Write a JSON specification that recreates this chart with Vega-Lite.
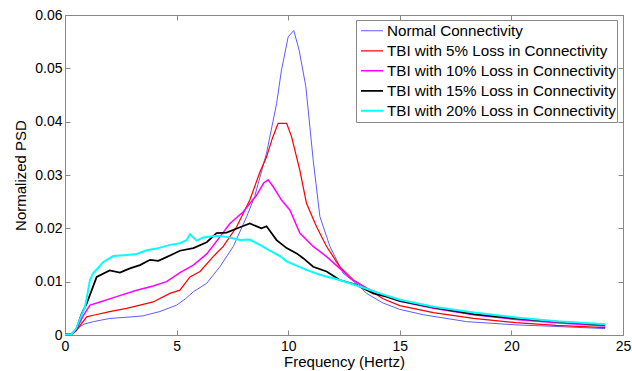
{
  "$schema": "https://vega.github.io/schema/vega-lite/v6.json",
  "width": 558,
  "height": 320,
  "autosize": {"type": "none"},
  "padding": {"left": 65, "top": 15, "right": 9, "bottom": 36},
  "background": "white",
  "config": {
    "view": {"stroke": "#888", "strokeWidth": 1},
    "font": "Liberation Sans"
  },
  "datasets": {
    "psd": [
      {"s": "Normal Connectivity", "f": 0, "v": 0.0001},
      {"s": "Normal Connectivity", "f": 0.3, "v": 0.0002},
      {"s": "Normal Connectivity", "f": 0.5, "v": 0.0008},
      {"s": "Normal Connectivity", "f": 0.67, "v": 0.0016},
      {"s": "Normal Connectivity", "f": 0.9, "v": 0.0021},
      {"s": "Normal Connectivity", "f": 1.27, "v": 0.0025},
      {"s": "Normal Connectivity", "f": 2.0, "v": 0.0031},
      {"s": "Normal Connectivity", "f": 3.0, "v": 0.0034},
      {"s": "Normal Connectivity", "f": 3.5, "v": 0.0036},
      {"s": "Normal Connectivity", "f": 4.25, "v": 0.0044},
      {"s": "Normal Connectivity", "f": 5.0, "v": 0.0056},
      {"s": "Normal Connectivity", "f": 5.4, "v": 0.0068},
      {"s": "Normal Connectivity", "f": 5.75, "v": 0.0081},
      {"s": "Normal Connectivity", "f": 6.35, "v": 0.0097},
      {"s": "Normal Connectivity", "f": 6.94, "v": 0.0128},
      {"s": "Normal Connectivity", "f": 7.54, "v": 0.0166},
      {"s": "Normal Connectivity", "f": 8.14, "v": 0.0222},
      {"s": "Normal Connectivity", "f": 8.5, "v": 0.026},
      {"s": "Normal Connectivity", "f": 9.03, "v": 0.0341},
      {"s": "Normal Connectivity", "f": 9.48, "v": 0.0434},
      {"s": "Normal Connectivity", "f": 9.7, "v": 0.0497},
      {"s": "Normal Connectivity", "f": 10.0, "v": 0.0559},
      {"s": "Normal Connectivity", "f": 10.25, "v": 0.0571},
      {"s": "Normal Connectivity", "f": 10.49, "v": 0.0534},
      {"s": "Normal Connectivity", "f": 10.79, "v": 0.0466},
      {"s": "Normal Connectivity", "f": 11.12, "v": 0.0328},
      {"s": "Normal Connectivity", "f": 11.42, "v": 0.0222},
      {"s": "Normal Connectivity", "f": 11.87, "v": 0.0166},
      {"s": "Normal Connectivity", "f": 12.46, "v": 0.0116},
      {"s": "Normal Connectivity", "f": 13.21, "v": 0.0091},
      {"s": "Normal Connectivity", "f": 13.51, "v": 0.0078},
      {"s": "Normal Connectivity", "f": 14.25, "v": 0.006},
      {"s": "Normal Connectivity", "f": 15.0, "v": 0.0048},
      {"s": "Normal Connectivity", "f": 16.05, "v": 0.0038},
      {"s": "Normal Connectivity", "f": 18.0, "v": 0.0025},
      {"s": "Normal Connectivity", "f": 20.2, "v": 0.0019},
      {"s": "Normal Connectivity", "f": 22.0, "v": 0.0016},
      {"s": "Normal Connectivity", "f": 24.2, "v": 0.0012},

      {"s": "TBI with 5% Loss in Connectivity", "f": 0, "v": 0.0001},
      {"s": "TBI with 5% Loss in Connectivity", "f": 0.3, "v": 0.0002},
      {"s": "TBI with 5% Loss in Connectivity", "f": 0.5, "v": 0.0008},
      {"s": "TBI with 5% Loss in Connectivity", "f": 0.75, "v": 0.0022},
      {"s": "TBI with 5% Loss in Connectivity", "f": 0.97, "v": 0.0034},
      {"s": "TBI with 5% Loss in Connectivity", "f": 1.27, "v": 0.0037},
      {"s": "TBI with 5% Loss in Connectivity", "f": 2.0, "v": 0.0044},
      {"s": "TBI with 5% Loss in Connectivity", "f": 2.76, "v": 0.005},
      {"s": "TBI with 5% Loss in Connectivity", "f": 3.36, "v": 0.0056},
      {"s": "TBI with 5% Loss in Connectivity", "f": 3.95, "v": 0.0062},
      {"s": "TBI with 5% Loss in Connectivity", "f": 4.7, "v": 0.0078},
      {"s": "TBI with 5% Loss in Connectivity", "f": 5.15, "v": 0.0084},
      {"s": "TBI with 5% Loss in Connectivity", "f": 5.6, "v": 0.0109},
      {"s": "TBI with 5% Loss in Connectivity", "f": 6.05, "v": 0.0119},
      {"s": "TBI with 5% Loss in Connectivity", "f": 6.64, "v": 0.0147},
      {"s": "TBI with 5% Loss in Connectivity", "f": 7.09, "v": 0.0166},
      {"s": "TBI with 5% Loss in Connectivity", "f": 7.69, "v": 0.0203},
      {"s": "TBI with 5% Loss in Connectivity", "f": 8.28, "v": 0.0253},
      {"s": "TBI with 5% Loss in Connectivity", "f": 8.73, "v": 0.0305},
      {"s": "TBI with 5% Loss in Connectivity", "f": 9.03, "v": 0.0334},
      {"s": "TBI with 5% Loss in Connectivity", "f": 9.3, "v": 0.037},
      {"s": "TBI with 5% Loss in Connectivity", "f": 9.55, "v": 0.0397},
      {"s": "TBI with 5% Loss in Connectivity", "f": 9.93, "v": 0.0397},
      {"s": "TBI with 5% Loss in Connectivity", "f": 10.15, "v": 0.0372},
      {"s": "TBI with 5% Loss in Connectivity", "f": 10.52, "v": 0.0309},
      {"s": "TBI with 5% Loss in Connectivity", "f": 10.82, "v": 0.0247},
      {"s": "TBI with 5% Loss in Connectivity", "f": 11.27, "v": 0.0203},
      {"s": "TBI with 5% Loss in Connectivity", "f": 11.72, "v": 0.0166},
      {"s": "TBI with 5% Loss in Connectivity", "f": 12.31, "v": 0.0128},
      {"s": "TBI with 5% Loss in Connectivity", "f": 12.91, "v": 0.0103},
      {"s": "TBI with 5% Loss in Connectivity", "f": 13.51, "v": 0.0088},
      {"s": "TBI with 5% Loss in Connectivity", "f": 14.25, "v": 0.0068},
      {"s": "TBI with 5% Loss in Connectivity", "f": 15.0, "v": 0.0055},
      {"s": "TBI with 5% Loss in Connectivity", "f": 16.5, "v": 0.0042},
      {"s": "TBI with 5% Loss in Connectivity", "f": 18.3, "v": 0.0031},
      {"s": "TBI with 5% Loss in Connectivity", "f": 20.2, "v": 0.0023},
      {"s": "TBI with 5% Loss in Connectivity", "f": 22.0, "v": 0.0018},
      {"s": "TBI with 5% Loss in Connectivity", "f": 24.2, "v": 0.0014},

      {"s": "TBI with 10% Loss in Connectivity", "f": 0, "v": 0.0001},
      {"s": "TBI with 10% Loss in Connectivity", "f": 0.3, "v": 0.0002},
      {"s": "TBI with 10% Loss in Connectivity", "f": 0.5, "v": 0.0009},
      {"s": "TBI with 10% Loss in Connectivity", "f": 0.8, "v": 0.0035},
      {"s": "TBI with 10% Loss in Connectivity", "f": 1.12, "v": 0.0056},
      {"s": "TBI with 10% Loss in Connectivity", "f": 1.57, "v": 0.0062},
      {"s": "TBI with 10% Loss in Connectivity", "f": 2.31, "v": 0.0072},
      {"s": "TBI with 10% Loss in Connectivity", "f": 3.21, "v": 0.0084},
      {"s": "TBI with 10% Loss in Connectivity", "f": 3.95, "v": 0.0092},
      {"s": "TBI with 10% Loss in Connectivity", "f": 4.55, "v": 0.01},
      {"s": "TBI with 10% Loss in Connectivity", "f": 5.15, "v": 0.0117},
      {"s": "TBI with 10% Loss in Connectivity", "f": 5.75, "v": 0.0131},
      {"s": "TBI with 10% Loss in Connectivity", "f": 6.35, "v": 0.0152},
      {"s": "TBI with 10% Loss in Connectivity", "f": 6.94, "v": 0.0184},
      {"s": "TBI with 10% Loss in Connectivity", "f": 7.39, "v": 0.0209},
      {"s": "TBI with 10% Loss in Connectivity", "f": 7.99, "v": 0.0231},
      {"s": "TBI with 10% Loss in Connectivity", "f": 8.58, "v": 0.0262},
      {"s": "TBI with 10% Loss in Connectivity", "f": 8.9, "v": 0.0285},
      {"s": "TBI with 10% Loss in Connectivity", "f": 9.1, "v": 0.0291},
      {"s": "TBI with 10% Loss in Connectivity", "f": 9.33, "v": 0.0278},
      {"s": "TBI with 10% Loss in Connectivity", "f": 9.7, "v": 0.0253},
      {"s": "TBI with 10% Loss in Connectivity", "f": 10.08, "v": 0.0234},
      {"s": "TBI with 10% Loss in Connectivity", "f": 10.52, "v": 0.0191},
      {"s": "TBI with 10% Loss in Connectivity", "f": 11.12, "v": 0.0166},
      {"s": "TBI with 10% Loss in Connectivity", "f": 11.72, "v": 0.0147},
      {"s": "TBI with 10% Loss in Connectivity", "f": 12.31, "v": 0.0125},
      {"s": "TBI with 10% Loss in Connectivity", "f": 12.91, "v": 0.0103},
      {"s": "TBI with 10% Loss in Connectivity", "f": 13.51, "v": 0.0088},
      {"s": "TBI with 10% Loss in Connectivity", "f": 14.25, "v": 0.0075},
      {"s": "TBI with 10% Loss in Connectivity", "f": 15.0, "v": 0.0063},
      {"s": "TBI with 10% Loss in Connectivity", "f": 16.5, "v": 0.005},
      {"s": "TBI with 10% Loss in Connectivity", "f": 18.3, "v": 0.0038},
      {"s": "TBI with 10% Loss in Connectivity", "f": 20.2, "v": 0.0029},
      {"s": "TBI with 10% Loss in Connectivity", "f": 22.0, "v": 0.0023},
      {"s": "TBI with 10% Loss in Connectivity", "f": 24.2, "v": 0.0017},

      {"s": "TBI with 15% Loss in Connectivity", "f": 0, "v": 0.0001},
      {"s": "TBI with 15% Loss in Connectivity", "f": 0.3, "v": 0.0002},
      {"s": "TBI with 15% Loss in Connectivity", "f": 0.5, "v": 0.001},
      {"s": "TBI with 15% Loss in Connectivity", "f": 0.75, "v": 0.004},
      {"s": "TBI with 15% Loss in Connectivity", "f": 0.97, "v": 0.0059},
      {"s": "TBI with 15% Loss in Connectivity", "f": 1.42, "v": 0.0109},
      {"s": "TBI with 15% Loss in Connectivity", "f": 2.0, "v": 0.0121},
      {"s": "TBI with 15% Loss in Connectivity", "f": 2.46, "v": 0.0117},
      {"s": "TBI with 15% Loss in Connectivity", "f": 2.91, "v": 0.0125},
      {"s": "TBI with 15% Loss in Connectivity", "f": 3.36, "v": 0.0131},
      {"s": "TBI with 15% Loss in Connectivity", "f": 3.81, "v": 0.0141},
      {"s": "TBI with 15% Loss in Connectivity", "f": 4.18, "v": 0.0139},
      {"s": "TBI with 15% Loss in Connectivity", "f": 4.55, "v": 0.0146},
      {"s": "TBI with 15% Loss in Connectivity", "f": 5.15, "v": 0.0158},
      {"s": "TBI with 15% Loss in Connectivity", "f": 5.75, "v": 0.0163},
      {"s": "TBI with 15% Loss in Connectivity", "f": 6.35, "v": 0.0174},
      {"s": "TBI with 15% Loss in Connectivity", "f": 6.79, "v": 0.0191},
      {"s": "TBI with 15% Loss in Connectivity", "f": 7.24, "v": 0.0192},
      {"s": "TBI with 15% Loss in Connectivity", "f": 7.84, "v": 0.0202},
      {"s": "TBI with 15% Loss in Connectivity", "f": 8.28, "v": 0.0209},
      {"s": "TBI with 15% Loss in Connectivity", "f": 8.8, "v": 0.02},
      {"s": "TBI with 15% Loss in Connectivity", "f": 9.03, "v": 0.0204},
      {"s": "TBI with 15% Loss in Connectivity", "f": 9.48, "v": 0.0178},
      {"s": "TBI with 15% Loss in Connectivity", "f": 9.93, "v": 0.0163},
      {"s": "TBI with 15% Loss in Connectivity", "f": 10.38, "v": 0.0153},
      {"s": "TBI with 15% Loss in Connectivity", "f": 10.67, "v": 0.0144},
      {"s": "TBI with 15% Loss in Connectivity", "f": 11.12, "v": 0.0128},
      {"s": "TBI with 15% Loss in Connectivity", "f": 11.72, "v": 0.0119},
      {"s": "TBI with 15% Loss in Connectivity", "f": 12.31, "v": 0.0103},
      {"s": "TBI with 15% Loss in Connectivity", "f": 13.06, "v": 0.0094},
      {"s": "TBI with 15% Loss in Connectivity", "f": 13.81, "v": 0.0078},
      {"s": "TBI with 15% Loss in Connectivity", "f": 14.4, "v": 0.0072},
      {"s": "TBI with 15% Loss in Connectivity", "f": 15.0, "v": 0.0064},
      {"s": "TBI with 15% Loss in Connectivity", "f": 16.5, "v": 0.0052},
      {"s": "TBI with 15% Loss in Connectivity", "f": 18.3, "v": 0.0039},
      {"s": "TBI with 15% Loss in Connectivity", "f": 20.2, "v": 0.0031},
      {"s": "TBI with 15% Loss in Connectivity", "f": 22.0, "v": 0.0025},
      {"s": "TBI with 15% Loss in Connectivity", "f": 24.2, "v": 0.0019},

      {"s": "TBI with 20% Loss in Connectivity", "f": 0, "v": 0.0001},
      {"s": "TBI with 20% Loss in Connectivity", "f": 0.3, "v": 0.0002},
      {"s": "TBI with 20% Loss in Connectivity", "f": 0.5, "v": 0.0012},
      {"s": "TBI with 20% Loss in Connectivity", "f": 0.67, "v": 0.003},
      {"s": "TBI with 20% Loss in Connectivity", "f": 0.9, "v": 0.0053},
      {"s": "TBI with 20% Loss in Connectivity", "f": 1.12, "v": 0.0103},
      {"s": "TBI with 20% Loss in Connectivity", "f": 1.27, "v": 0.0116},
      {"s": "TBI with 20% Loss in Connectivity", "f": 1.72, "v": 0.0137},
      {"s": "TBI with 20% Loss in Connectivity", "f": 2.16, "v": 0.0148},
      {"s": "TBI with 20% Loss in Connectivity", "f": 2.76, "v": 0.015},
      {"s": "TBI with 20% Loss in Connectivity", "f": 3.21, "v": 0.0152},
      {"s": "TBI with 20% Loss in Connectivity", "f": 3.66, "v": 0.0159},
      {"s": "TBI with 20% Loss in Connectivity", "f": 4.1, "v": 0.0162},
      {"s": "TBI with 20% Loss in Connectivity", "f": 4.7, "v": 0.0169},
      {"s": "TBI with 20% Loss in Connectivity", "f": 5.15, "v": 0.0172},
      {"s": "TBI with 20% Loss in Connectivity", "f": 5.45, "v": 0.0178},
      {"s": "TBI with 20% Loss in Connectivity", "f": 5.6, "v": 0.0189},
      {"s": "TBI with 20% Loss in Connectivity", "f": 5.9, "v": 0.0177},
      {"s": "TBI with 20% Loss in Connectivity", "f": 6.19, "v": 0.0183},
      {"s": "TBI with 20% Loss in Connectivity", "f": 6.79, "v": 0.0186},
      {"s": "TBI with 20% Loss in Connectivity", "f": 7.24, "v": 0.0184},
      {"s": "TBI with 20% Loss in Connectivity", "f": 7.54, "v": 0.0181},
      {"s": "TBI with 20% Loss in Connectivity", "f": 7.84, "v": 0.0178},
      {"s": "TBI with 20% Loss in Connectivity", "f": 8.28, "v": 0.0179},
      {"s": "TBI with 20% Loss in Connectivity", "f": 8.73, "v": 0.0169},
      {"s": "TBI with 20% Loss in Connectivity", "f": 9.18, "v": 0.0158},
      {"s": "TBI with 20% Loss in Connectivity", "f": 9.63, "v": 0.0148},
      {"s": "TBI with 20% Loss in Connectivity", "f": 9.93, "v": 0.0138},
      {"s": "TBI with 20% Loss in Connectivity", "f": 10.82, "v": 0.0122},
      {"s": "TBI with 20% Loss in Connectivity", "f": 11.42, "v": 0.0113},
      {"s": "TBI with 20% Loss in Connectivity", "f": 12.31, "v": 0.0103},
      {"s": "TBI with 20% Loss in Connectivity", "f": 13.21, "v": 0.0091},
      {"s": "TBI with 20% Loss in Connectivity", "f": 14.1, "v": 0.0078},
      {"s": "TBI with 20% Loss in Connectivity", "f": 15.0, "v": 0.0066},
      {"s": "TBI with 20% Loss in Connectivity", "f": 16.5, "v": 0.0053},
      {"s": "TBI with 20% Loss in Connectivity", "f": 18.3, "v": 0.0042},
      {"s": "TBI with 20% Loss in Connectivity", "f": 20.2, "v": 0.0033},
      {"s": "TBI with 20% Loss in Connectivity", "f": 22.0, "v": 0.0026},
      {"s": "TBI with 20% Loss in Connectivity", "f": 24.2, "v": 0.002}
    ]
  },
  "data": {"name": "psd"},
  "layer": [
    {
      "mark": {"type": "line", "clip": true},
      "encoding": {
        "x": {
          "field": "f", "type": "quantitative",
          "scale": {"domain": [0, 25], "nice": false, "zero": false},
          "axis": {
            "values": [0, 5, 10, 15, 20, 25],
            "title": "Frequency (Hertz)",
            "tickSize": -5, "tickColor": "#888",
            "labelPadding": 9, "domain": false, "grid": false,
            "labelFont": "Liberation Sans", "labelFontSize": 14, "labelColor": "#000",
            "labelFlush": false, "labelOverlap": false,
            "titleFont": "Liberation Sans", "titleFontSize": 15, "titleFontWeight": "normal",
            "titleColor": "#000", "titlePadding": 1
          }
        },
        "y": {
          "field": "v", "type": "quantitative",
          "scale": {"domain": [0, 0.06], "nice": false},
          "axis": {
            "values": [0, 0.01, 0.02, 0.03, 0.04, 0.05, 0.06],
            "format": "~g",
            "title": "Normalized PSD",
            "tickSize": -5, "tickColor": "#888",
            "labelPadding": 8, "domain": false, "grid": false,
            "labelFont": "Liberation Sans", "labelFontSize": 14, "labelColor": "#000",
            "labelFlush": false, "labelOverlap": false,
            "titleFont": "Liberation Sans", "titleFontSize": 15, "titleFontWeight": "normal",
            "titleColor": "#000", "titlePadding": 6
          }
        },
        "color": {
          "field": "s", "type": "nominal",
          "scale": {
            "domain": ["Normal Connectivity", "TBI with 5% Loss in Connectivity", "TBI with 10% Loss in Connectivity", "TBI with 15% Loss in Connectivity", "TBI with 20% Loss in Connectivity"],
            "range": ["#5c5cff", "#ff0000", "#ff00ff", "#000000", "#00ffff"]
          },
          "legend": {
            "title": null, "orient": "none", "legendX": 291, "legendY": 5,
            "fillColor": "white", "strokeColor": "#888", "padding": 1,
            "symbolType": "stroke", "symbolSize": 484, "symbolOffset": 3, "labelOffset": 3,
            "labelFont": "Liberation Sans", "labelFontSize": 15.2, "labelColor": "#000",
            "clipHeight": 19.5, "rowPadding": 0, "labelLimit": 400
          }
        },
        "strokeWidth": {
          "field": "s", "type": "ordinal",
          "scale": {
            "domain": ["Normal Connectivity", "TBI with 5% Loss in Connectivity", "TBI with 10% Loss in Connectivity", "TBI with 15% Loss in Connectivity", "TBI with 20% Loss in Connectivity"],
            "range": [1, 2, 1.5, 1.3, 2.2]
          },
          "legend": {
            "title": null, "orient": "none", "legendX": 291, "legendY": 5,
            "fillColor": "white", "strokeColor": "#888", "padding": 1,
            "symbolType": "stroke", "symbolSize": 484, "symbolOffset": 3, "labelOffset": 3,
            "labelFont": "Liberation Sans", "labelFontSize": 15.2, "labelColor": "#000",
            "clipHeight": 19.5, "rowPadding": 0, "labelLimit": 400
          }
        }
      }
    },
    {
      "mark": {"type": "point", "opacity": 0},
      "encoding": {
        "x": {
          "field": "f", "type": "quantitative",
          "axis": {"orient": "top", "values": [0, 5, 10, 15, 20, 25], "labels": false, "title": null, "tickSize": -5, "tickColor": "#888", "domain": false, "grid": false}
        },
        "y": {
          "field": "v", "type": "quantitative",
          "axis": {"orient": "right", "values": [0, 0.01, 0.02, 0.03, 0.04, 0.05, 0.06], "labels": false, "title": null, "tickSize": -5, "tickColor": "#888", "domain": false, "grid": false}
        }
      }
    }
  ],
  "resolve": {"axis": {"x": "independent", "y": "independent"}}
}
